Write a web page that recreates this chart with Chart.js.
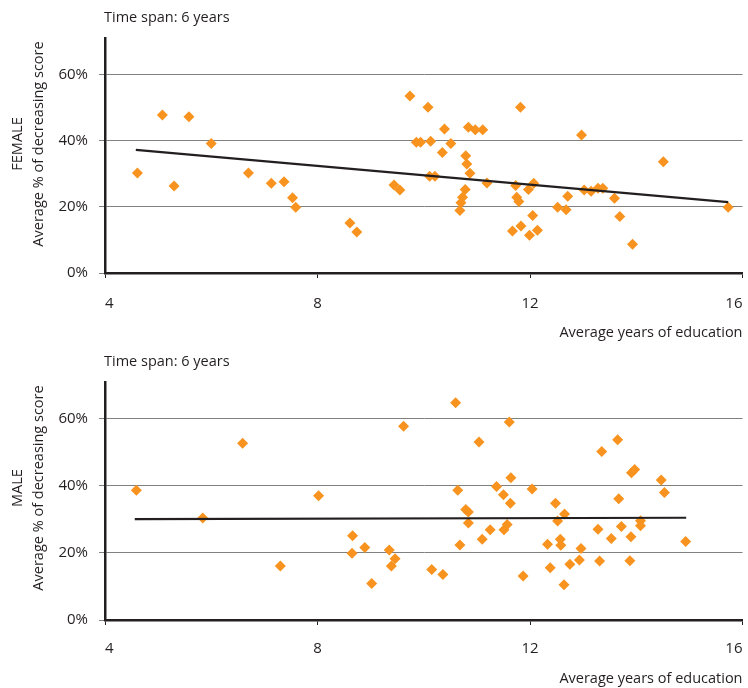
<!DOCTYPE html>
<html>
<head>
<meta charset="utf-8">
<script src="https://cdn.jsdelivr.net/npm/chart.js@4.4.1/dist/chart.umd.min.js"></script>
<style>
  body { margin: 0; background: #fff; }
  .box { position: absolute; left: 0; width: 748px; height: 344px; }
</style>
</head>
<body>
<div class="box" style="top:0"><canvas id="femaleChart"></canvas></div>
<div class="box" style="top:344px"><canvas id="maleChart"></canvas></div>
<script>
'use strict';

// values
const femaleEdu = [4.61,5.08,5.30,5.58,6.00,6.70,7.13,7.37,7.53,7.59,8.61,8.74,
  9.74,10.08,10.39,9.86,9.94,10.13,10.35,10.51,10.84,10.97,11.11,10.79,10.81,10.87,
  10.11,10.21,11.19,9.44,9.55,10.78,10.73,10.70,10.68,11.82,11.73,11.75,11.79,11.97,
  12.07,12.05,11.67,11.83,11.99,12.14,12.97,12.52,12.68,12.71,13.02,13.15,13.28,13.37,
  13.59,13.69,13.93,14.51,15.73];
const femaleScore = [30.2,47.7,26.3,47.2,39.1,30.2,27.1,27.6,22.7,19.9,15.1,12.4,
  53.5,50.1,43.5,39.5,39.5,39.8,36.4,39.1,44.0,43.3,43.3,35.4,32.9,30.1,
  29.2,29.2,27.2,26.6,25.1,25.2,22.9,21.2,18.9,50.1,26.4,22.9,21.6,25.2,
  27.1,17.4,12.7,14.2,11.4,12.9,41.7,19.9,19.1,23.2,25.1,24.7,25.6,25.6,
  22.6,17.1,8.7,33.6,19.9];
const femaleTrendEdu = [4.58, 15.73];
const femaleTrendScore = [37.2, 21.4];

const maleEdu = [4.59,5.84,6.59,7.30,8.02,8.66,8.65,8.89,9.02,9.35,9.39,9.46,9.62,
  10.15,10.36,10.60,10.64,10.68,10.79,10.84,10.84,11.04,11.10,11.25,11.37,11.50,11.51,
  11.57,11.61,11.64,11.63,11.87,12.04,12.33,12.38,12.48,12.52,12.57,12.58,12.65,12.64,
  12.75,12.93,12.96,13.28,13.35,13.31,13.53,13.65,13.67,13.72,13.88,13.90,13.91,13.97,
  14.08,14.08,14.47,14.53,14.93];
const maleScore = [38.7,30.4,52.7,16.1,37.1,25.1,19.9,21.6,10.9,20.9,16.1,18.3,57.8,
  15.1,13.6,64.8,38.7,22.4,33.0,32.2,28.9,53.1,24.1,26.9,39.8,37.4,26.9,
  28.5,59.1,42.4,34.8,13.1,39.1,22.6,15.6,34.8,29.5,24.1,22.3,31.6,10.5,
  16.6,17.9,21.3,27.1,50.3,17.6,24.3,53.8,36.2,27.9,17.7,24.8,43.9,44.9,
  29.6,28.1,41.8,38.0,23.4];
const maleTrendEdu = [4.56, 14.94];
const maleTrendScore = [30.1, 30.5];

const xTicks = [4, 8, 12, 16];
const yTicks = [0, 20, 40, 60];

const textColor = '#231f20';
const orange = '#f7931e';
const fontName = '"Open Sans", sans-serif';

function toPoints(xs, ys) {
  let pts = [];
  for (let i = 0; i < xs.length; i++) {
    pts.push({x: xs[i], y: ys[i]});
  }
  return pts;
}

// header + two line y title, drawn next to the plot
const sideText = {
  id: 'sideText',
  afterDraw(chart, args, opts) {
    const ctx = chart.ctx;
    ctx.save();
    ctx.fillStyle = textColor;
    ctx.font = '14.5px ' + fontName;
    ctx.textAlign = 'left';
    ctx.textBaseline = 'alphabetic';
    ctx.fillText(opts.header, 104, 22);
    ctx.translate(0, 144);
    ctx.rotate(-Math.PI / 2);
    ctx.textAlign = 'center';
    ctx.textBaseline = 'middle';
    ctx.fillText(opts.group, 0, 18);
    ctx.fillText(opts.axisLabel, 0, 39);
    ctx.restore();
  }
};

function makeChart(id, group, edu, score, trendEdu, trendScore, xHeight, xPad, titlePad) {
  const ctx = document.getElementById(id).getContext('2d');
  return new Chart(ctx, {
    type: 'scatter',
    data: {
      datasets: [{
        type: 'line',
        data: toPoints(trendEdu, trendScore),
        borderColor: textColor,
        borderWidth: 2.2,
        pointRadius: 0,
        fill: false
      },
      {
        data: toPoints(edu, score),
        pointStyle: 'rectRot',
        pointRadius: 5.5,
        backgroundColor: orange,
        borderColor: orange,
        borderWidth: 0
      }]
    },
    options: {
      responsive: true,
      maintainAspectRatio: false,
      animation: false,
      layout: { padding: { top: 38, left: 0, right: 5, bottom: 0 } },
      plugins: {
        legend: { display: false },
        tooltip: { enabled: false },
        sideText: { header: 'Time span: 6 years', group: group, axisLabel: 'Average % of decreasing score' }
      },
      scales: {
        x: {
          type: 'linear',
          min: xTicks[0],
          max: xTicks[xTicks.length - 1],
          afterBuildTicks: (s) => { s.ticks = xTicks.map(v => ({value: v})); },
          afterFit: (s) => { s.height = xHeight; s.paddingRight = 0; s.paddingLeft = 0; },
          border: { color: textColor, width: 2.5 },
          grid: { drawOnChartArea: false, drawTicks: true, tickLength: 5, color: textColor },
          ticks: { color: textColor, padding: xPad, align: 'inner', font: { family: fontName, size: 15 } },
          title: {
            display: true,
            text: 'Average years of education',
            align: 'end',
            color: textColor,
            font: { family: fontName, size: 14.5 },
            padding: { top: 0, bottom: titlePad }
          }
        },
        y: {
          min: 0,
          max: 71,
          afterBuildTicks: (s) => { s.ticks = yTicks.map(v => ({value: v})); },
          afterFit: (s) => { s.width = 105; },
          border: { color: textColor, width: 2.5 },
          grid: { color: '#808080', lineWidth: 1, tickLength: 6 },
          ticks: {
            color: textColor,
            padding: 11,
            font: { family: fontName, size: 15 },
            callback: (v) => v + '%'
          }
        }
      }
    },
    plugins: [sideText]
  });
}

makeChart('femaleChart', 'FEMALE', femaleEdu, femaleScore, femaleTrendEdu, femaleTrendScore, 71, 17, 2);
makeChart('maleChart', 'MALE', maleEdu, maleScore, maleTrendEdu, maleTrendScore, 68, 15, 0);
</script>
</body>
</html>
